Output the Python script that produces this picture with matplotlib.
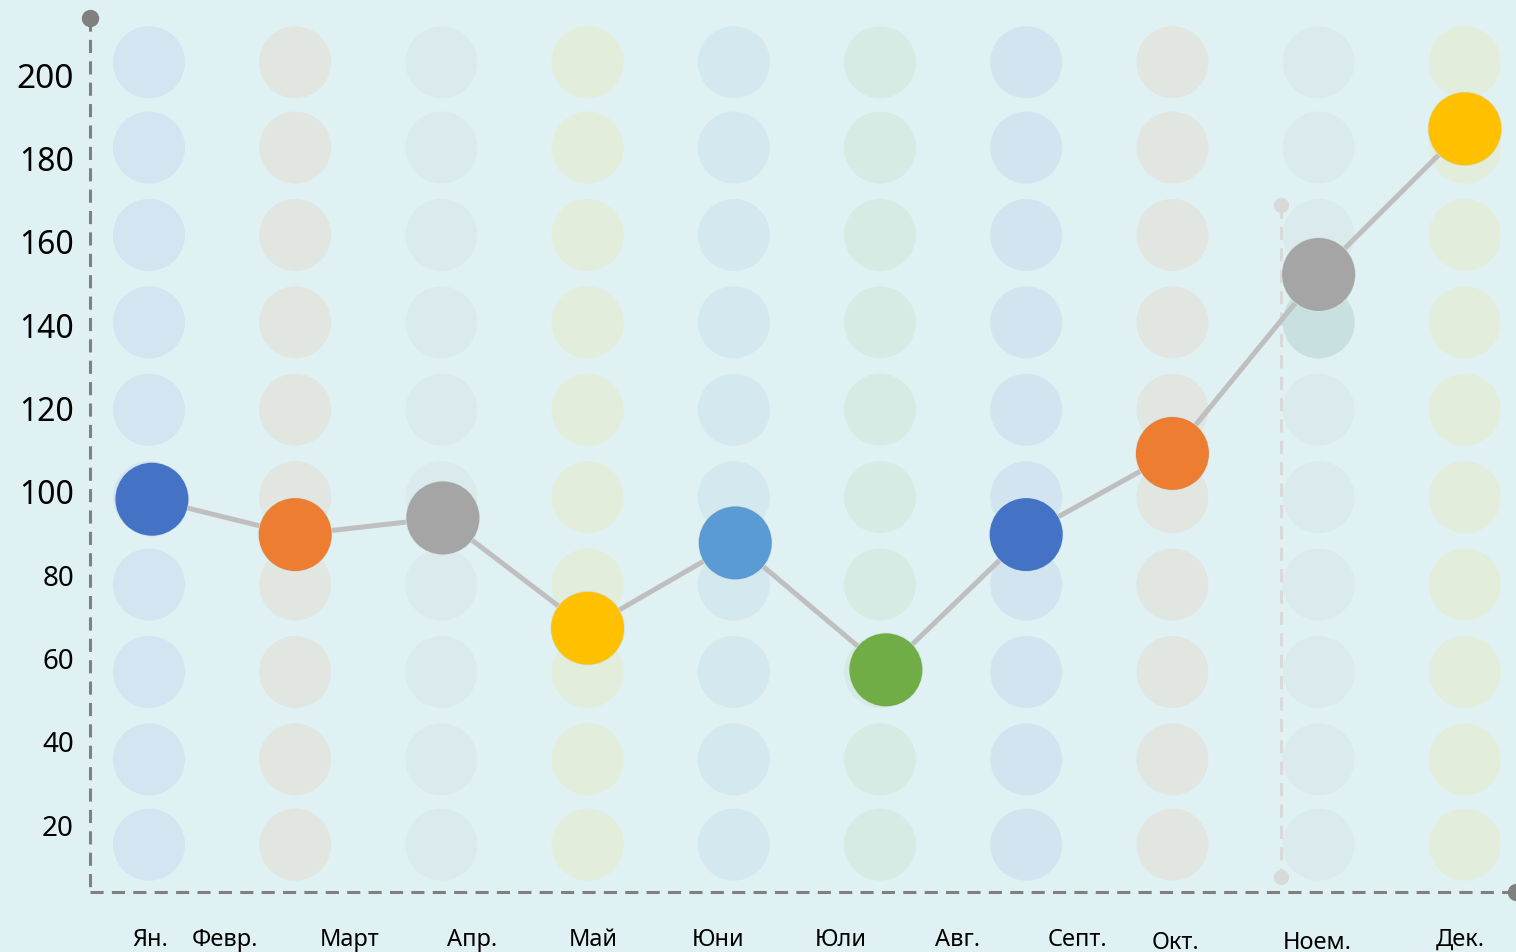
"""
Месечна крива върху декоративна решетка от бледи кръгове
записва out.png
"""
import matplotlib
matplotlib.use('Agg')
import matplotlib.pyplot as plt

plt.rcParams['font.family'] = ['Noto Sans', 'DejaVu Sans']

# ── данни ──────────────────────────────────────
point_x = [0.02, 1.0, 2.01, 3.0, 4.01, 5.04, 6.0, 7.0, 8.0, 9.0]
values = [98, 89.5, 93.5, 67, 87.5, 57, 89.5, 109, 152, 187]
point_colors = ['#4472C4', '#ED7D31', '#A5A5A5', '#FFC000', '#5B9BD5',
                '#70AD47', '#4472C4', '#ED7D31', '#A5A5A5', '#FFC000']

# фонови кръгове: цвят по колона, височина по ред
column_colors = ['#D2E5F0', '#E1E6E1', '#DBEAED', '#E3EDDC', '#D3E9EF',
                 '#D7EBE4', '#D2E4EF', '#E1E6E1', '#DBEAED', '#E3EDDC']
row_levels = [203, 182.5, 161.5, 140.5, 119.5, 98.5, 77.5, 56.5, 35.5, 15]

month_labels = ['Ян.', 'Февр.', 'Март', 'Апр.', 'Май', 'Юни',
                'Юли', 'Авг.', 'Септ.', 'Окт.', 'Ноем.', 'Дек.']
month_pos = [0.01, 0.52, 1.37, 2.21, 3.04, 3.89,
             4.73, 5.53, 6.35, 7.02, 7.99, 8.97]
month_level = [-7.7, -7.7, -7.7, -7.7, -7.7, -7.7,
               -7.7, -7.7, -7.7, -8.4, -8.3, -7.7]

y_ticks = [200, 180, 160, 140, 120, 100, 80, 60, 40, 20]
y_tick_sizes = [24, 23, 23, 23, 23, 23, 20, 20, 20, 20]

# ── графика ────────────────────────────────────
bg = '#E0F1F4'
fig = plt.figure(figsize=(15.16, 9.53), dpi=100, facecolor=bg)
ax = fig.add_axes([0, 0, 1, 1])
ax.set_facecolor(bg)
ax.set_xlim(-1.019, 9.35)
ax.set_ylim(-10.8, 218.2)
ax.axis('off')

# бледа решетка от кръгове
for i, c in enumerate(column_colors):
    ax.scatter([i] * len(row_levels), row_levels, s=2690, color=c,
               edgecolors='none', zorder=1)
# един по-тъмен кръг в колоната за ноември
ax.scatter([8], [row_levels[3]], s=2690, color='#C8E0E0', edgecolors='none', zorder=1)

# оси (пунктир)
axis_col = '#808080'
ax.plot([-0.4036, -0.4036], [213.6, 3.6], color=axis_col, lw=2.2,
        ls=(0, (4.3, 2.7)), zorder=2)
ax.plot([-0.4036, 9.35], [3.6, 3.6], color=axis_col, lw=2.2,
        ls=(0, (4.3, 2.7)), zorder=2)
ax.plot([-0.4036], [213.6], 'o', ms=11.5, color=axis_col, zorder=2)
ax.plot([9.35], [3.6], 'o', ms=11.5, color=axis_col, zorder=2, clip_on=False)

# вертикален светъл пунктир
ax.plot([7.743, 7.743], [168.7, 7.2], color='#D9D9D9', lw=2.2,
        ls=(0, (4.3, 2.7)), zorder=2)
ax.plot([7.743, 7.743], [168.7, 7.2], 'o', ms=10, color='#D9D9D9', zorder=2)

# линия и точки
ax.plot(point_x, values, color='#BFBFBF', lw=3.6, zorder=3, solid_capstyle='round')
ax.scatter(point_x, values, s=2870, color='#CFE3E3', edgecolors='none', zorder=3.5)
ax.scatter(point_x, values, s=2760, color=point_colors, edgecolors='none', zorder=4)

# етикети по Y
for v, fs in zip(y_ticks, y_tick_sizes):
    ax.text(-0.513, v - 0.9, str(v), ha='right', va='center', fontsize=fs, color='black')

# месеци
for lab, x, y in zip(month_labels, month_pos, month_level):
    ax.text(x, y, lab, ha='center', va='center', fontsize=17, color='black')

plt.savefig('out.png', dpi=100, facecolor=bg)
